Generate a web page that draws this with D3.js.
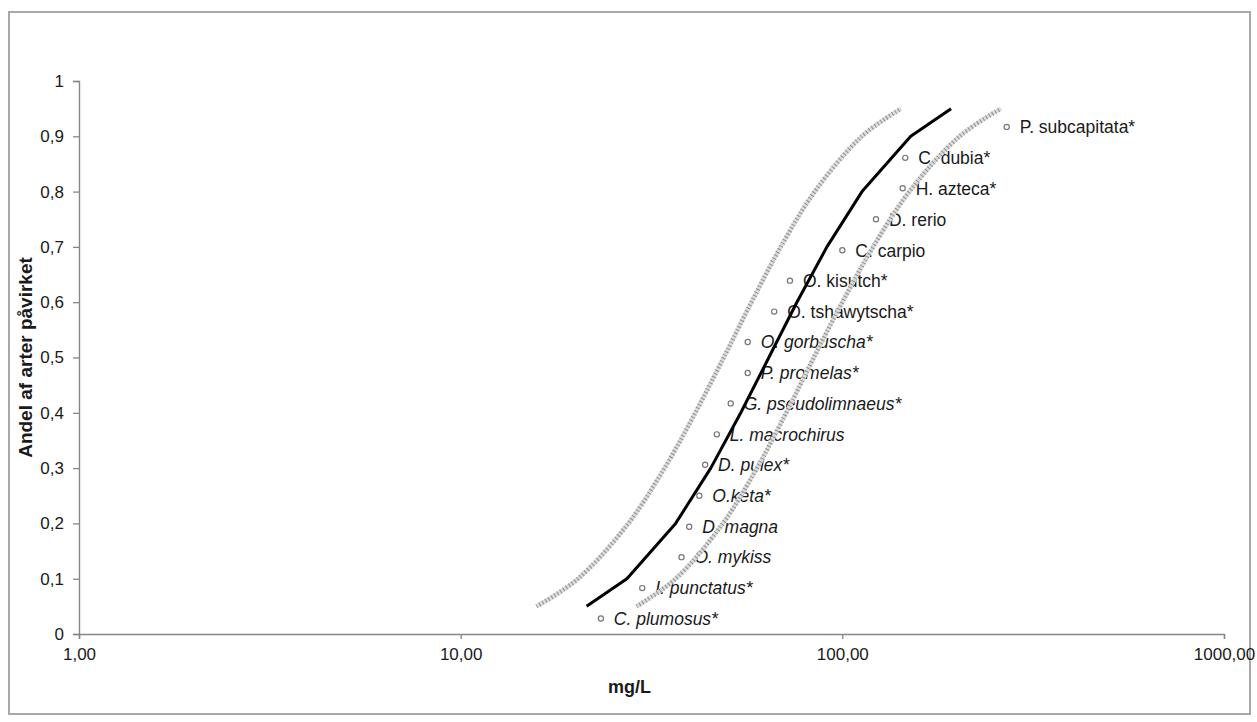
<!DOCTYPE html>
<html>
<head>
<meta charset="utf-8">
<script src="https://cdn.jsdelivr.net/npm/d3@7"></script>
<style>
  body { margin: 0; background: #fff; }
  text { font-family: "Liberation Sans", Arial, sans-serif; }
</style>
</head>
<body>
<script>

var W = 1257;
var H = 722;
var margin = { top: 81, right: 33, bottom: 88, left: 79 };
var w = W - margin.left - margin.right;
var h = H - margin.top - margin.bottom;

// species sensitivity points (bottom to top)
var species = ["C. plumosus*", "I. punctatus*", "O. mykiss", "D. magna", "O.keta*", "D. pulex*",
    "L. macrochirus", "G. pseudolimnaeus*", "P. promelas*", "O. gorbuscha*", "O. tshawytscha*",
    "O. kisutch*", "C. carpio", "D. rerio", "H. azteca*", "C. dubia*", "P. subcapitata*"];
var speciesConc = [23.3, 29.9, 37.9, 39.7, 42.2, 43.7, 46.9, 51.0, 56.5, 56.5, 66.3,
    72.9, 100, 122.5, 143.9, 146.2, 269.6];
var speciesFrac = [0.028, 0.083, 0.139, 0.194, 0.25, 0.306, 0.361, 0.417, 0.472, 0.528, 0.583,
    0.639, 0.694, 0.75, 0.806, 0.861, 0.917];
var italicSpecies = ["C. plumosus*", "I. punctatus*", "O. mykiss", "D. magna", "O.keta*", "D. pulex*",
    "L. macrochirus", "G. pseudolimnaeus*", "P. promelas*", "O. gorbuscha*"];

// fitted curve and confidence band
var curveFrac = [0.05, 0.1, 0.2, 0.3, 0.4, 0.5, 0.6, 0.7, 0.8, 0.9, 0.95];
var fitConc = [21.38, 27.26, 36.58, 45.21, 54.19, 64.18, 76.02, 91.12, 112.6, 151.1, 192.7];
var lowerConc = [15.81, 20.30, 27.50, 34.21, 41.19, 48.91, 57.80, 68.96, 84.66, 112.5, 142.5];
var upperConc = [28.91, 36.60, 48.66, 59.76, 71.28, 84.21, 99.98, 120.4, 149.8, 202.9, 260.5];

// axes
var xTicks = [1, 10, 100, 1000];
var xTickLabels = ["1,00", "10,00", "100,00", "1000,00"];
var yTicks = [0, 0.1, 0.2, 0.3, 0.4, 0.5, 0.6, 0.7, 0.8, 0.9, 1];
var yTickLabels = ["0", "0,1", "0,2", "0,3", "0,4", "0,5", "0,6", "0,7", "0,8", "0,9", "1"];

var root = d3.select("body")
    .append("svg")
    .attr("width", W)
    .attr("height", H);

// outer chart border
root.append("rect")
    .attr("x", 9)
    .attr("y", 12)
    .attr("width", 1241)
    .attr("height", 702)
    .attr("fill", "none")
    .attr("stroke", "#a8a8a8")
    .attr("stroke-width", 2);

var svg = root.append("g")
    .attr("transform", "translate(" + margin.left + "," + margin.top + ")");

var xScale = d3.scaleLog()
    .domain([1, 1000])
    .range([0, w]);

var yScale = d3.scaleLinear()
    .domain([0, 1])
    .range([h, 0]);

var xAxis = d3.axisBottom(xScale)
    .tickValues(xTicks)
    .tickSizeOuter(0)
    .tickSize(5)
    .tickPadding(9)
    .tickFormat(function (d, i) { return xTickLabels[i]; });

var yAxis = d3.axisLeft(yScale)
    .tickValues(yTicks)
    .tickSizeOuter(0)
    .tickSize(6)
    .tickPadding(9)
    .tickFormat(function (d, i) { return yTickLabels[i]; });

var gx = svg.append("g")
    .attr("class", "x-axis")
    .attr("transform", "translate(0," + h + ")")
    .call(xAxis);

var gy = svg.append("g")
    .attr("class", "y-axis")
    .call(yAxis);

[gx, gy].forEach(function (g) {
    g.select(".domain").attr("stroke", "#868686").attr("stroke-width", 1.4);
    g.selectAll(".tick line").attr("stroke", "#868686").attr("stroke-width", 1.3);
    g.selectAll(".tick text")
        .attr("fill", "#1a1a1a")
        .style("font-size", "17px")
        .style("font-family", "'Liberation Sans', Arial, sans-serif");
});

// axis titles
svg.append("text")
    .attr("x", w / 2 - 22)
    .attr("y", h + 59)
    .attr("text-anchor", "middle")
    .attr("font-weight", "bold")
    .attr("font-size", "18px")
    .attr("fill", "#1a1a1a")
    .text("mg/L");

svg.append("text")
    .attr("transform", "translate(" + (-47) + "," + (h / 2) + ") rotate(-90)")
    .attr("text-anchor", "middle")
    .attr("font-weight", "bold")
    .attr("font-size", "19px")
    .attr("fill", "#1a1a1a")
    .text("Andel af arter påvirket");

// species labels
svg.selectAll(".label")
    .data(species)
    .enter()
    .append("text")
    .attr("class", "label")
    .attr("x", function (d, i) { return xScale(speciesConc[i]) + 13; })
    .attr("y", function (d, i) { return yScale(speciesFrac[i]); })
    .attr("dy", "0.36em")
    .attr("font-size", "17.5px")
    .attr("fill", "#1a1a1a")
    .style("font-style", function (d) { return italicSpecies.indexOf(d) >= 0 ? "italic" : "normal"; })
    .text(function (d) { return d; });

// lines
var line = function (concs) {
    return d3.line()
        .x(function (d, i) { return xScale(concs[i]); })
        .y(function (d) { return yScale(d); });
};

[lowerConc, upperConc].forEach(function (concs) {
    var gen = line(concs).curve(d3.curveCatmullRom.alpha(0.5));
    svg.append("path")
        .datum(curveFrac)
        .attr("d", gen)
        .attr("fill", "none")
        .attr("stroke", "#dcdcdc")
        .attr("stroke-width", 4.5);
    svg.append("path")
        .datum(curveFrac)
        .attr("d", gen)
        .attr("fill", "none")
        .attr("stroke", "#8e8e8e")
        .attr("stroke-width", 4.5)
        .attr("stroke-dasharray", "1,2.5");
});

svg.append("path")
    .datum(curveFrac)
    .attr("d", line(fitConc))
    .attr("fill", "none")
    .attr("stroke", "#000")
    .attr("stroke-width", 3)
    .attr("stroke-linejoin", "round");

// species points
svg.selectAll(".pt")
    .data(species)
    .enter()
    .append("circle")
    .attr("class", "pt")
    .attr("cx", function (d, i) { return xScale(speciesConc[i]); })
    .attr("cy", function (d, i) { return yScale(speciesFrac[i]); })
    .attr("r", 2.6)
    .attr("fill", "#fff")
    .attr("stroke", "#777")
    .attr("stroke-width", 1.2);

</script>
</body>
</html>
